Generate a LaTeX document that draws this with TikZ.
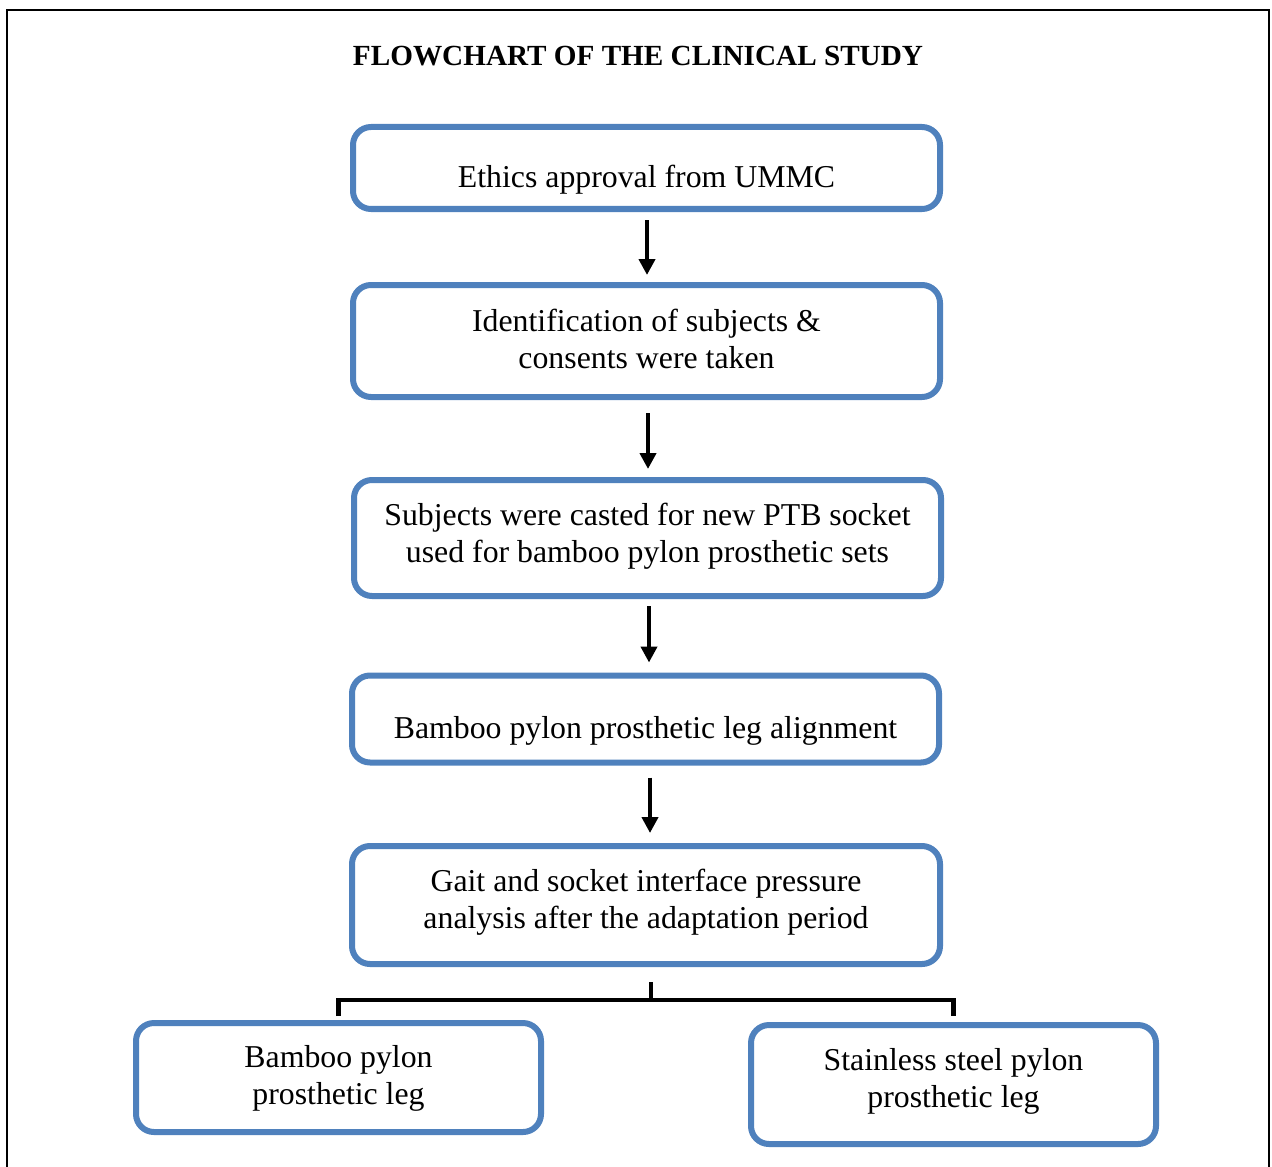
\documentclass[tikz,border=0pt]{standalone}
\usepackage{fontspec}
\setmainfont{Liberation Serif}
\usetikzlibrary{calc,arrows.meta}

\definecolor{boxblue}{RGB}{79,129,189}

\tikzset{
  stage/.style={draw=boxblue, line width=3pt, rounded corners=9pt,
                fill=white, inner sep=0pt, minimum width=293.5pt},
  txt/.style={align=center, inner sep=0pt,
              font=\fontsize{15.9pt}{18.5pt}\selectfont},
  flow/.style={line width=2.2pt, -{Triangle[width=8pt,length=8pt]}},
  bracket/.style={line width=2.2pt, line join=miter},
}

\begin{document}
\begin{tikzpicture}[x=0.5pt, y=-0.5pt]
  \useasboundingbox (0,0) rectangle (1272,1166);
  \clip (0,0) rectangle (1272,1166);

  % outer frame
  \draw[line width=1pt] (7,10) rectangle (1269,1210);

  % heading
  \node[font=\fontsize{14.6pt}{17pt}\selectfont\bfseries, inner sep=0pt]
    (title) at (638,56) {FLOWCHART OF THE CLINICAL STUDY};

  % stage boxes
  \node[stage, minimum height=41pt]   (b1) at (646.5,168) {};
  \node[stage, minimum height=56pt]   (b2) at (646.5,341) {};
  \node[stage, minimum height=58pt]   (b3) at (647.5,538) {};
  \node[stage, minimum height=43.5pt] (b4) at (645.5,719) {};
  \node[stage, minimum height=59pt, minimum width=294pt] (b5) at (646,905) {};
  \node[stage, minimum height=54.5pt, minimum width=202.5pt] (b6) at (338.5,1077.5) {};
  \node[stage, minimum height=59.5pt, minimum width=202.5pt] (b7) at (953.5,1084.5) {};

  % box texts
  \node[txt] (t1) at ($(b1.center)+(0,11.5)$) {Ethics approval from UMMC};
  \node[txt] (t2) at ($(b2.center)+(0,-2.5)$) {Identification of subjects \&\\consents were taken};
  \node[txt] (t3) at ($(b3.center)+(0,-1.5)$) {Subjects were casted for new PTB socket\\used for bamboo pylon prosthetic sets};
  \node[txt] (t4) at ($(b4.center)+(0,12)$) {Bamboo pylon prosthetic leg alignment};
  \node[txt] (t5) at ($(b5.center)+(0,-3)$) {Gait and socket interface pressure\\analysis after the adaptation period};
  \node[txt] (t6) at ($(b6.center)+(0,0.5)$) {Bamboo pylon\\prosthetic leg};
  \node[txt] (t7) at ($(b7.center)+(0,-3)$) {Stainless steel pylon\\prosthetic leg};

  % arrows between stages
  \draw[flow] ($(b1.south)+(0.5,8)$)  -- ($(b2.north)+(0.5,-7)$);
  \draw[flow] ($(b2.south)+(1.5,13)$) -- ($(b3.north)+(0.5,-8)$);
  \draw[flow] ($(b3.south)+(1.5,7)$)  -- ($(b4.north)+(3.5,-10)$);
  \draw[flow] ($(b4.south)+(4.5,12)$) -- ($(b5.north)+(4,-10)$);

  % split into the two pylon groups
  \coordinate (fork) at (651,1000);
  \draw[bracket] ($(b5.south)+(5,15)$) -- (fork);
  \draw[bracket] ($(b6.north)+(0,-4)$) -- (fork -| b6.north)
                 -- (fork -| b7.north) -- ($(b7.north)+(0,-6)$);
\end{tikzpicture}
\end{document}
